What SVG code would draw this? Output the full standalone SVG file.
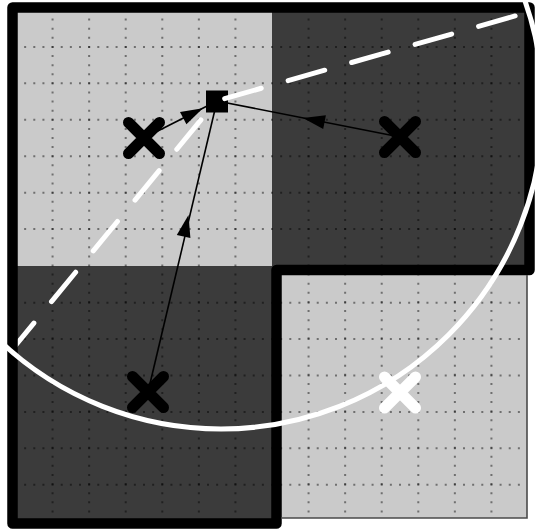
<svg xmlns="http://www.w3.org/2000/svg" width="539" height="532" viewBox="0 0 539 532">
  <style>
    .light { fill: #cacaca; }
    .dark { fill: #3b3b3b; }
    .hd { stroke: #000; stroke-opacity: 0.45; stroke-width: 2; stroke-dasharray: 2 7.143; stroke-dashoffset: 1; }
    .vd { stroke: #000; stroke-opacity: 0.45; stroke-width: 2; stroke-dasharray: 2 7.107; stroke-dashoffset: 1; }
    .edge { stroke: #000; stroke-width: 1.6; fill: none; }
    .head { fill: #000; }
    .xb { stroke: #000; stroke-width: 11; stroke-linecap: round; fill: none; }
    .xw { stroke: #fff; stroke-width: 11; stroke-linecap: round; fill: none; }
    .white { stroke: #fff; stroke-width: 5; fill: none; }
  </style>
  <rect width="539" height="532" fill="#fff"/>

  <g id="cells">
    <rect class="light" x="12" y="7" width="260" height="259"/>
    <rect class="dark" x="272" y="7" width="257" height="263"/>
    <rect class="dark" x="12" y="266" width="265" height="257"/>
    <rect class="light" x="276" y="270" width="251" height="248"/>
  </g>

  <g id="grid">
    <line class="hd" x1="16" y1="46.93" x2="525" y2="46.93"/>
    <line class="hd" x1="16" y1="83.36" x2="525" y2="83.36"/>
    <line class="hd" x1="16" y1="119.79" x2="525" y2="119.79"/>
    <line class="hd" x1="16" y1="156.21" x2="525" y2="156.21"/>
    <line class="hd" x1="16" y1="192.64" x2="525" y2="192.64"/>
    <line class="hd" x1="16" y1="229.07" x2="525" y2="229.07"/>
    <line class="hd" x1="16" y1="302.64" x2="525" y2="302.64"/>
    <line class="hd" x1="16" y1="339.07" x2="525" y2="339.07"/>
    <line class="hd" x1="16" y1="375.5" x2="525" y2="375.5"/>
    <line class="hd" x1="16" y1="411.93" x2="525" y2="411.93"/>
    <line class="hd" x1="16" y1="448.36" x2="525" y2="448.36"/>
    <line class="hd" x1="16" y1="484.79" x2="525" y2="484.79"/>
    <line class="vd" x1="52.57" y1="10.5" x2="52.57" y2="517"/>
    <line class="vd" x1="89.14" y1="10.5" x2="89.14" y2="517"/>
    <line class="vd" x1="125.71" y1="10.5" x2="125.71" y2="517"/>
    <line class="vd" x1="162.29" y1="10.5" x2="162.29" y2="517"/>
    <line class="vd" x1="198.86" y1="10.5" x2="198.86" y2="517"/>
    <line class="vd" x1="235.43" y1="10.5" x2="235.43" y2="517"/>
    <line class="vd" x1="308.57" y1="10.5" x2="308.57" y2="517"/>
    <line class="vd" x1="345.14" y1="10.5" x2="345.14" y2="517"/>
    <line class="vd" x1="381.71" y1="10.5" x2="381.71" y2="517"/>
    <line class="vd" x1="418.29" y1="10.5" x2="418.29" y2="517"/>
    <line class="vd" x1="454.86" y1="10.5" x2="454.86" y2="517"/>
    <line class="vd" x1="491.43" y1="10.5" x2="491.43" y2="517"/>
  </g>

  <g id="connectors">
    <line class="edge" x1="400" y1="137" x2="217" y2="101"/>
    <polygon class="head" points="303,118 325.9,115.3 323.2,129.1"/>
    <line class="edge" x1="148" y1="392" x2="217" y2="101"/>
    <polygon class="head" points="188.5,215 190.4,238.1 176.8,235"/>
    <line class="edge" x1="144" y1="138" x2="217" y2="101"/>
    <polygon class="head" points="202.9,108.2 186.4,124.3 180,111.9"/>
  </g>

  <g id="query">
    <rect x="206" y="90.5" width="22" height="22" fill="#000"/>
  </g>

  <g id="radii">
    <path class="white" stroke-linecap="round" stroke-dasharray="38 27.75" stroke-dashoffset="41.25" d="M216.5,101 L10.9,351"/>
    <path class="white" stroke-linecap="round" stroke-dasharray="38 28" stroke-dashoffset="57.5" d="M216.5,101 L529,12"/>
  </g>

  <g id="outline">
    <path d="M12.5,7.5 H529.5 V270 H276.5 V523.5 H12.5 Z" fill="none" stroke="#000" stroke-width="10.5" stroke-linejoin="round"/>
    <path d="M281,518 H527 V275" fill="none" stroke="#4a4a4a" stroke-width="1.6"/>
  </g>

  <g id="circle">
    <circle class="white" cx="221" cy="107" r="322"/>
  </g>

  <g id="x-top-left">
    <path class="xb" d="M128.5,122.5 L159.5,153.5 M159.5,122.5 L128.5,153.5"/>
  </g>
  <g id="x-top-right">
    <path class="xb" d="M384.5,121.5 L415.5,152.5 M415.5,121.5 L384.5,152.5"/>
  </g>
  <g id="x-bottom-left">
    <path class="xb" d="M132.5,376.5 L163.5,407.5 M163.5,376.5 L132.5,407.5"/>
  </g>
  <g id="x-bottom-right">
    <path class="xw" d="M384.5,377 L415.5,408 M415.5,377 L384.5,408"/>
  </g>
</svg>
